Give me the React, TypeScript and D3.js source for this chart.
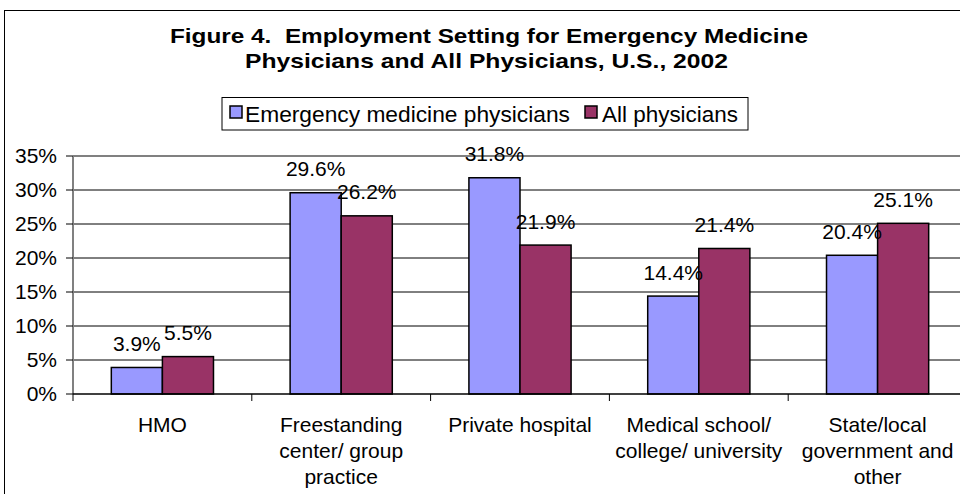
import React from 'react';
import * as d3 from 'd3';

const categories = [
  ['HMO'],
  ['Freestanding', 'center/ group', 'practice'],
  ['Private hospital'],
  ['Medical school/', 'college/ university'],
  ['State/local', 'government and', 'other'],
];
const seriesNames = ['Emergency medicine physicians', 'All physicians'];
const emergency = [3.9, 29.6, 31.8, 14.4, 20.4];
const allPhysicians = [5.5, 26.2, 21.9, 21.4, 25.1];
const yTicks = [0, 5, 10, 15, 20, 25, 30, 35];
const colors = ['#9999ff', '#993366'];

const W = 960;
const H = 494;
const font = 'Arial, "Liberation Sans", sans-serif';

export default function App() {
  const plot = { left: 73, right: 967, top: 156, bottom: 394 };
  const keys = categories.map((c) => c.join(' '));
  const x = d3.scaleBand().domain(keys).range([plot.left, plot.right]);
  const xSub = d3
    .scaleBand()
    .domain(seriesNames)
    .range([0, x.bandwidth()])
    .paddingInner(0)
    .paddingOuter(0.75);
  const y = d3.scaleLinear().domain([0, 35]).range([plot.bottom, plot.top]);
  const values = [emergency, allPhysicians];

  return (
    <svg
      width={W}
      height={H}
      style={{ position: 'absolute', left: 0, top: 0, background: '#fff' }}
      fontFamily={font}
    >
      <rect x={0} y={0} width={W} height={H} fill="#fff" />
      {/* chart border, only left/top fall inside the view */}
      <rect x={4.5} y={10.5} width={1000} height={600} fill="none" stroke="#000" />

      {/* the source stretches the title text a bit wider than plain Arial */}
      <text
        x={489}
        y={43}
        textAnchor="middle"
        fontSize={21}
        fontWeight="bold"
        textLength={638}
        lengthAdjust="spacingAndGlyphs"
        style={{ whiteSpace: 'pre' }}
      >
        {'Figure 4.  Employment Setting for Emergency Medicine'}
      </text>
      <text
        x={486.5}
        y={68}
        textAnchor="middle"
        fontSize={21}
        fontWeight="bold"
        textLength={483}
        lengthAdjust="spacingAndGlyphs"
      >
        Physicians and All Physicians, U.S., 2002
      </text>

      {/* legend */}
      <rect x={222} y={97.5} width={526} height={32.5} fill="#fff" stroke="#000" />
      <rect x={230} y={106} width={12} height={12} fill={colors[0]} stroke="#000" strokeWidth={1.5} />
      <text x={245} y={122} fontSize={22} textLength={325} lengthAdjust="spacingAndGlyphs">
        {seriesNames[0]}
      </text>
      <rect x={585} y={106} width={12} height={12} fill={colors[1]} stroke="#000" strokeWidth={1.5} />
      <text x={602} y={122} fontSize={22} textLength={136} lengthAdjust="spacingAndGlyphs">
        {seriesNames[1]}
      </text>

      {/* gridlines */}
      {yTicks.slice(1, -1).map((t) => (
        <line key={t} x1={plot.left} x2={W} y1={y(t)} y2={y(t)} stroke="#000" strokeWidth={1} />
      ))}
      <line x1={plot.left} x2={W} y1={y(35)} y2={y(35)} stroke="#808080" strokeWidth={2} />
      <line x1={plot.left} x2={plot.left} y1={plot.top} y2={plot.bottom} stroke="#808080" strokeWidth={2} />

      {/* y axis ticks + labels */}
      {yTicks.map((t) => (
        <g key={t}>
          <line x1={66} x2={plot.left} y1={y(t)} y2={y(t)} stroke="#000" />
          <text x={57} y={y(t) + 7} textAnchor="end" fontSize={21}>
            {t}%
          </text>
        </g>
      ))}

      {/* bars */}
      {keys.map((k, i) =>
        seriesNames.map((s, j) => {
          const v = values[j][i];
          const bx = x(k)! + xSub(s)!;
          return (
            <rect
              key={k + s}
              x={bx}
              y={y(v)}
              width={xSub.bandwidth()}
              height={y(0) - y(v)}
              fill={colors[j]}
              stroke="#000"
              strokeWidth={1.5}
            />
          );
        })
      )}

      {/* x axis */}
      <line x1={plot.left} x2={W} y1={plot.bottom} y2={plot.bottom} stroke="#000" strokeWidth={1.5} />
      {keys.map((k) => (
        <line key={k} x1={x(k)!} x2={x(k)!} y1={plot.bottom} y2={plot.bottom + 7} stroke="#000" />
      ))}

      {/* data labels */}
      {keys.map((k, i) =>
        seriesNames.map((s, j) => {
          const v = values[j][i];
          const cx = x(k)! + xSub(s)! + xSub.bandwidth() / 2;
          return (
            <text key={'l' + k + s} x={cx} y={y(v) - 16.5} textAnchor="middle" fontSize={21}>
              {v.toFixed(1)}%
            </text>
          );
        })
      )}

      {/* category labels */}
      {categories.map((lines, i) => (
        <text key={i} textAnchor="middle" fontSize={21}>
          {lines.map((ln, li) => (
            <tspan key={li} x={x(keys[i])! + x.bandwidth() / 2} y={432 + li * 26}>
              {ln}
            </tspan>
          ))}
        </text>
      ))}
    </svg>
  );
}
